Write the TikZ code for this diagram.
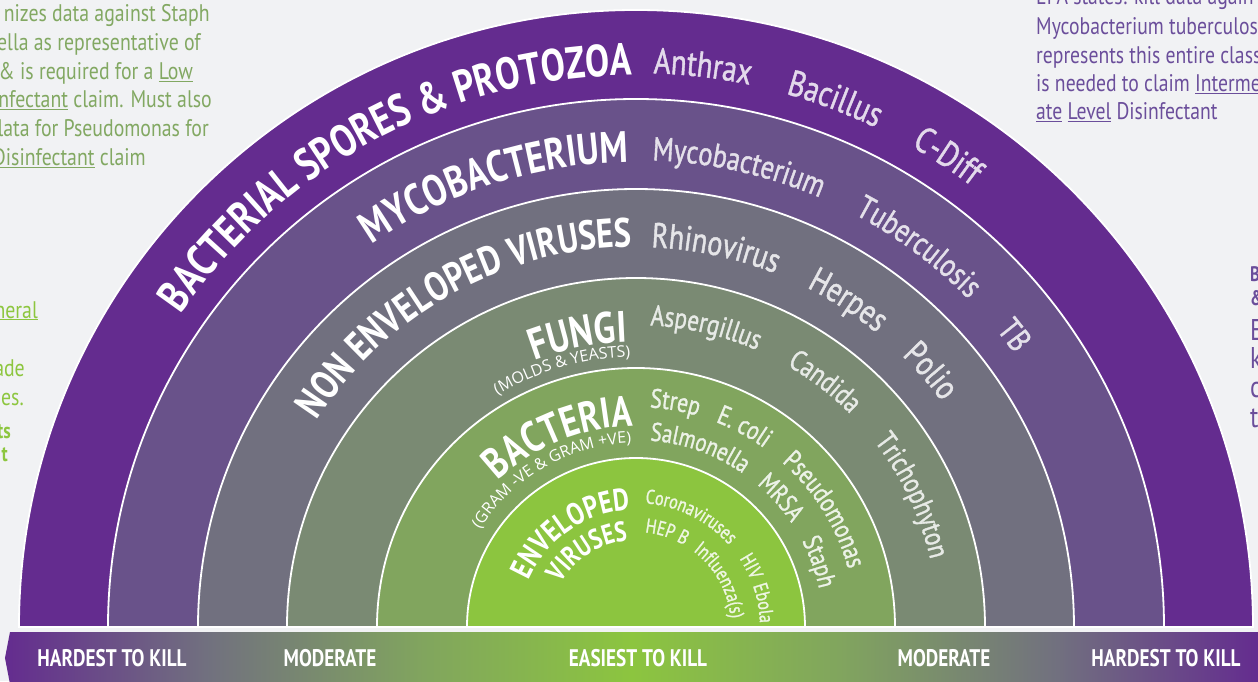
\documentclass[tikz,border=0pt]{standalone}
\usepackage{fontspec}
\usetikzlibrary{decorations.text}
\newfontfamily\condB{PT Sans}[FakeStretch=0.8]
\newfontfamily\condR{PT Sans}[FakeStretch=0.8,FakeBold=1.2]
\newfontfamily\condS{PT Sans}[FakeStretch=0.82]
\newfontfamily\condL{PT Sans}[FakeStretch=0.825]
\newfontfamily\osans{Open Sans}
\definecolor{bg}{HTML}{F1F2F4}
\definecolor{r6}{HTML}{642C8F}
\definecolor{r5}{HTML}{69528A}
\definecolor{r4}{HTML}{71707F}
\definecolor{r3}{HTML}{7A8A73}
\definecolor{r2}{HTML}{81A55E}
\definecolor{r1}{HTML}{8CC53F}
\definecolor{sgreen}{HTML}{82A862}
\definecolor{lgreen}{HTML}{8DC63F}
\definecolor{spurple}{HTML}{6B4E9B}
\colorlet{l6}{white!82!r6}
\colorlet{l5}{white!82!r5}
\colorlet{l4}{white!82!r4}
\colorlet{l3}{white!82!r3}
\colorlet{l2}{white!85!r2}
\colorlet{l1}{white!85!r1}
\pgfdeclarehorizontalshading{bandshade}{100bp}{color(0bp)=(r6); color(25bp)=(r6); color(33bp)=(r4); color(41.7bp)=(r2); color(50bp)=(r1); color(58.3bp)=(r2); color(67bp)=(r4); color(75bp)=(r6); color(100bp)=(r6)}
% right aligned text ending at angle #2 on radius #1
\newcommand\arcR[5]{\path[decorate,decoration={text along path,text align=right,text color=#3,text={|#4|#5}}] (180:#1pt) arc[start angle=180,end angle=#2,radius=#1pt];}
% left aligned text starting at angle #2 on radius #1
\newcommand\arcL[5]{\path[decorate,decoration={text along path,text align=left,text color=#3,text={|#4|#5}}] (#2:#1pt) arc[start angle=#2,end angle=-30,radius=#1pt];}
\newcommand\fbig[1]{\condB\bfseries\fontsize{#1}{#1}\selectfont}
\newcommand\flist[1]{\condR\fontsize{#1}{#1}\selectfont}
\newcommand\fsub[1]{\osans\fontsize{#1}{#1}\selectfont}
\begin{document}
\begin{tikzpicture}[x=1pt,y=1pt,
  side/.style={inner sep=0pt, font=\condS\fontsize{24}{28}\selectfont},
  sideleft/.style={inner sep=0pt, font=\condL\fontsize{24}{28}\selectfont},
  sidebold/.style={inner sep=0pt, font=\condB\bfseries\fontsize{22}{26}\selectfont},
  bandtxt/.style={text=white, font=\condB\bfseries\fontsize{24}{24}\selectfont, anchor=base, inner sep=0pt}]
\useasboundingbox (-636,-54) rectangle (622,627);
\fill[bg] (-636,-54) rectangle (622,627);
% rings
\foreach \r/\c in {617/r6,528/r5,438/r4,349/r3,259/r2,169/r1}{
  \filldraw[fill=\c, draw=white, line width=1.8pt] (-\r pt,0) arc[start angle=180,end angle=0,radius=\r pt] -- cycle;}
% band
\path[shading=bandshade] (-626,-5) -- (622,-5) -- (622,-57) -- (-626,-57) -- (-631,-31) -- cycle;
\node[bandtxt] (b1) at (-524,-39) {HARDEST TO KILL};
\node[bandtxt] (b2) at (-306,-39) {MODERATE};
\node[bandtxt] (b3) at (2,-39) {EASIEST TO KILL};
\node[bandtxt] (b4) at (308,-39) {MODERATE};
\node[bandtxt] (b5) at (530,-39) {HARDEST TO KILL};
% big labels
\arcR{552}{90.4}{white}{\fbig{45}}{BACTERIAL SPORES {\&} PROTOZOA}
\arcR{465}{90.9}{white}{\fbig{44}}{MYCOBACTERIUM}
\arcR{380}{90.6}{white}{\fbig{41}}{NON ENVELOPED VIRUSES}
\arcR{285}{91.8}{white}{\fbig{44}}{FUNGI}
\arcR{270}{91.2}{white}{\fsub{16}}{(MOLDS {\&} YEASTS)}
\arcR{201}{90.9}{white}{\fbig{43}}{BACTERIA}
\arcR{184}{91.5}{white}{\fsub{16}}{(GRAM -VE {\&} GRAM +VE)}
\arcR{117}{92.9}{white}{\fbig{31}}{ENVELOPED}
\arcR{87}{95.3}{white}{\fbig{28}}{VIRUSES}
% lists
\arcL{554}{88.2}{l6}{\flist{36}}{Anthrax}
\arcL{554}{74.3}{l6}{\flist{36}}{Bacillus}
\arcL{554}{60.2}{l6}{\flist{36}}{C-Diff}
\arcL{467}{88.0}{l5}{\flist{33}}{Mycobacterium}
\arcL{467}{62.1}{l5}{\flist{33}}{Tuberculosis}
\arcL{467}{39.5}{l5}{\flist{33}}{TB}
\arcL{380}{87.7}{l4}{\flist{35}}{Rhinovirus}
\arcL{380}{63.3}{l4}{\flist{35}}{Herpes}
\arcL{380}{45.6}{l4}{\flist{35}}{Polio}
\arcL{302}{87.3}{l3}{\flist{29}}{Aspergillus}
\arcL{302}{60.0}{l3}{\flist{29}}{Candida}
\arcL{302}{37.9}{l3}{\flist{29}}{Trichophyton}
\arcL{220}{86.4}{l2}{\flist{27}}{Strep}
\arcL{220}{68.8}{l2}{\flist{27}}{E. coli}
\arcL{220}{48.5}{l2}{\flist{27}}{Pseudomonas}
\arcL{187}{85.7}{l2}{\flist{26}}{Salmonella}
\arcL{187}{49.7}{l2}{\flist{26}}{MRSA}
\arcL{187}{27.4}{l2}{\flist{26}}{Staph}
\arcL{124}{85.8}{l1}{\flist{20}}{Coronaviruses}
\arcL{124}{33.5}{l1}{\flist{20}}{HIV}
\arcL{124}{19.5}{l1}{\flist{20}}{Ebola}
\arcL{95}{84.6}{l1}{\flist{20}}{HEP B}
\arcL{95}{53.0}{l1}{\flist{20}}{Influenza(s)}
% side texts top-left
\node[sideleft, text=sgreen, anchor=base east] (tl1) at (-426,605) {nizes data against Staph};
\node[sideleft, text=sgreen, anchor=base east] (tl2) at (-435,576) {ella as representative of};
\node[sideleft, text=sgreen, anchor=base east] (tl3) at (-443,547) {\& is required for a \underline{Low}};
\node[sideleft, text=sgreen, anchor=base east] (tl4) at (-424,519) {\underline{nfectant} claim. Must also};
\node[sideleft, text=sgreen, anchor=base east] (tl5) at (-427,490) {lata for Pseudomonas for};
\node[sideleft, text=sgreen, anchor=base east] (tl6) at (-490,461) {\underline{Disinfectant} claim};
% left middle
\node[sideleft, text=lgreen, anchor=base east] (lm1) at (-598,309) {\underline{neral}};
\node[sideleft, text=lgreen, anchor=base east] (lm2) at (-611,251) {ade};
\node[sideleft, text=lgreen, anchor=base east] (lm3) at (-612,222) {es.};
\node[sidebold, text=lgreen, anchor=base east] (lm4) at (-625,189) {ts};
\node[sidebold, text=lgreen, anchor=base east] (lm5) at (-628,166) {t};
% top right
\node[side, text=spurple, anchor=base west] (tr0) at (400,622) {EPA states: kill data again};
\node[side, text=spurple, anchor=base west] (tr1) at (400,592) {Mycobacterium tuberculosi};
\node[side, text=spurple, anchor=base west] (tr2) at (400,563) {represents this entire class};
\node[side, text=spurple, anchor=base west] (tr3) at (400,535) {is needed to claim \underline{Interme}};
\node[side, text=spurple, anchor=base west] (tr4) at (400,507) {\underline{ate} \underline{Level} Disinfectant};
% right middle
\node[sidebold, text=spurple, anchor=base west, font=\condB\bfseries\fontsize{21}{24}\selectfont] (rm1) at (614,345) {B};
\node[sidebold, text=spurple, anchor=base west, font=\condB\bfseries\fontsize{21}{24}\selectfont] (rm2) at (614,322) {\&};
\node[side, text=spurple, anchor=base west, font=\condS\fontsize{30}{30}\selectfont] (rm3) at (614,287) {E};
\node[side, text=spurple, anchor=base west, font=\condS\fontsize{30}{30}\selectfont] (rm4) at (614,259) {k};
\node[side, text=spurple, anchor=base west, font=\condS\fontsize{30}{30}\selectfont] (rm5) at (614,230) {c};
\node[side, text=spurple, anchor=base west, font=\condS\fontsize{30}{30}\selectfont] (rm6) at (614,200) {th};
\end{tikzpicture}
\end{document}
